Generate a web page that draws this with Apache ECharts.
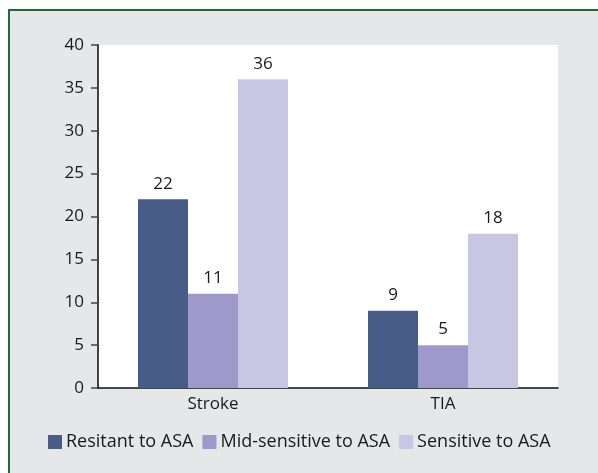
<!DOCTYPE html>
<html>
<head>
<meta charset="utf-8">
<script src="https://cdn.jsdelivr.net/npm/echarts@6/dist/echarts.min.js"></script>
<style>
  html, body { margin: 0; padding: 0; background: #ffffff; }
  #frame {
    position: absolute; left: 8px; top: 9px; width: 590px; height: 464px;
    background: #e6e7e9; border-left: 2px solid #1f6b3a; border-top: 2px solid #1f6b3a;
    box-sizing: border-box;
  }
  #chart { position: absolute; left: 0; top: 0; width: 598px; height: 473px; }
</style>
</head>
<body>
<div id="frame"></div>
<div id="chart"></div>
<script>
const categories = ['Stroke', 'TIA'];
const seriesNames = ['Resitant to ASA', 'Mid-sensitive to ASA', 'Sensitive to ASA'];
const resistant = [22, 9];
const midSensitive = [11, 5];
const sensitive = [36, 18];
const seriesColors = ['#485c88', '#9f98ca', '#c8c6e3'];

const font = '"Open Sans", "Noto Sans", sans-serif';
const valuesBySeries = [resistant, midSensitive, sensitive];

const chart = echarts.init(document.getElementById('chart'), null, { renderer: 'canvas' });
chart.setOption({
  backgroundColor: 'transparent',
  animation: false,
  textStyle: { fontFamily: font },
  grid: { left: 98, right: 40, top: 45, bottom: 85, backgroundColor: '#ffffff', show: true, borderWidth: 0 },
  legend: {
    bottom: 17,
    left: 43,
    itemWidth: 14,
    itemHeight: 14,
    itemGap: 9,
    icon: 'rect',
    textStyle: { fontFamily: font, fontSize: 18, color: '#1a1a1a', padding: [0, 0, 0, -1] },
    data: seriesNames
  },
  xAxis: {
    type: 'category',
    data: categories,
    axisLine: { lineStyle: { color: '#111111', width: 1.5 } },
    axisTick: { show: false },
    axisLabel: { fontFamily: font, fontSize: 17, color: '#1a1a1a', margin: 8 }
  },
  yAxis: {
    type: 'value',
    min: 0,
    max: 40,
    interval: 5,
    axisLine: { show: true, lineStyle: { color: '#444444', width: 2 } },
    axisTick: { show: true, length: 7, lineStyle: { color: '#444444', width: 1.5 } },
    splitLine: { show: false },
    axisLabel: { fontFamily: font, fontSize: 17, color: '#1a1a1a', margin: 14 }
  },
  series: seriesNames.map((name, i) => ({
    name,
    type: 'bar',
    data: valuesBySeries[i],
    barWidth: 50,
    barGap: '0%',
    itemStyle: { color: seriesColors[i] },
    label: {
      show: true,
      position: 'top',
      distance: 7,
      fontFamily: font,
      fontSize: 17,
      color: '#1a1a1a'
    }
  }))
});
</script>
</body>
</html>
